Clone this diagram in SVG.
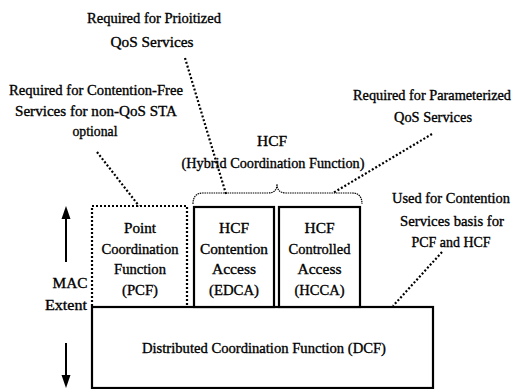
<svg xmlns="http://www.w3.org/2000/svg" width="518" height="389" viewBox="0 0 518 389">
<defs>
<style>
text{font-family:'Liberation Serif','DejaVu Serif',serif;font-size:15px;fill:#000;stroke:#000;stroke-width:0.35;text-anchor:middle}
.box{fill:#fff;stroke:#000;stroke-width:2.2}
.dbox{fill:none;stroke:#000;stroke-width:2.2;stroke-dasharray:2 2}
.dot{fill:none;stroke:#000;stroke-width:2.2;stroke-dasharray:2 2}
.brace{fill:none;stroke:#000;stroke-width:1.2;stroke-dasharray:1.5 0.8}
</style>
</defs>
<rect width="518" height="389" fill="#fff"/>
<g id="connectors">
<line class="dot" x1="185" y1="58" x2="226" y2="194"/>
<line class="dot" x1="97" y1="152" x2="139" y2="206"/>
<line class="dot" x1="432" y1="134" x2="333" y2="193"/>
<line class="dot" x1="442" y1="252" x2="393" y2="306"/>
<path class="brace" d="M193,204 Q193,193 203,193 L268,193 Q277,193 277,184 Q277,193 286,193 L352,193 Q362,193 362,204"/>
</g>
<g id="extent">
<line x1="66" y1="262" x2="66" y2="217" stroke="#000" stroke-width="2"/>
<polygon points="66,206 61.5,219 70.5,219"/>
<line x1="66" y1="343" x2="66" y2="378" stroke="#000" stroke-width="2"/>
<polygon points="66,388 61.5,375 70.5,375"/>
<text x="70" y="288" textLength="35" lengthAdjust="spacingAndGlyphs">MAC</text>
<text x="66" y="310" textLength="42" lengthAdjust="spacingAndGlyphs">Extent</text>
</g>
<g id="dcf">
<rect class="box" x="92" y="307" width="341" height="81"/>
<text x="264" y="353" textLength="244" lengthAdjust="spacingAndGlyphs">Distributed Coordination Function (DCF)</text>
</g>
<g id="pcf">
<rect class="dbox" x="92" y="206" width="95" height="101"/>
<text x="140" y="233" textLength="32" lengthAdjust="spacingAndGlyphs">Point</text>
<text x="140" y="254" textLength="77" lengthAdjust="spacingAndGlyphs">Coordination</text>
<text x="140" y="274" textLength="52" lengthAdjust="spacingAndGlyphs">Function</text>
<text x="140" y="295" textLength="36" lengthAdjust="spacingAndGlyphs">(PCF)</text>
</g>
<g id="edca">
<rect class="box" x="194" y="207" width="80" height="100"/>
<text x="234" y="233" textLength="30" lengthAdjust="spacingAndGlyphs">HCF</text>
<text x="234" y="254" textLength="68" lengthAdjust="spacingAndGlyphs">Contention</text>
<text x="234" y="274" textLength="44" lengthAdjust="spacingAndGlyphs">Access</text>
<text x="234" y="295" textLength="50" lengthAdjust="spacingAndGlyphs">(EDCA)</text>
</g>
<g id="hcca">
<rect class="box" x="279" y="207" width="81" height="100"/>
<text x="319.5" y="233" textLength="30" lengthAdjust="spacingAndGlyphs">HCF</text>
<text x="319.5" y="254" textLength="62" lengthAdjust="spacingAndGlyphs">Controlled</text>
<text x="319.5" y="274" textLength="44" lengthAdjust="spacingAndGlyphs">Access</text>
<text x="319.5" y="295" textLength="50" lengthAdjust="spacingAndGlyphs">(HCCA)</text>
</g>
<g id="hcf">
<text x="272" y="146" textLength="30" lengthAdjust="spacingAndGlyphs">HCF</text>
<text x="273" y="168" textLength="183" lengthAdjust="spacingAndGlyphs">(Hybrid Coordination Function)</text>
</g>
<g id="note-prioritized">
<text x="154" y="23" textLength="134" lengthAdjust="spacingAndGlyphs">Required for Prioitized</text>
<text x="152" y="47" textLength="83" lengthAdjust="spacingAndGlyphs">QoS Services</text>
</g>
<g id="note-pcf">
<text x="96" y="95" textLength="174" lengthAdjust="spacingAndGlyphs">Required for Contention-Free</text>
<text x="96" y="116" textLength="162" lengthAdjust="spacingAndGlyphs">Services for non-QoS STA</text>
<text x="95" y="136" textLength="45" lengthAdjust="spacingAndGlyphs">optional</text>
</g>
<g id="note-parameterized">
<text x="432" y="100" textLength="158" lengthAdjust="spacingAndGlyphs">Required for Parameterized</text>
<text x="433" y="122" textLength="78" lengthAdjust="spacingAndGlyphs">QoS Services</text>
</g>
<g id="note-dcf">
<text x="451" y="203" textLength="118" lengthAdjust="spacingAndGlyphs">Used for Contention</text>
<text x="452" y="226" textLength="104" lengthAdjust="spacingAndGlyphs">Services basis for</text>
<text x="451" y="247" textLength="79" lengthAdjust="spacingAndGlyphs">PCF and HCF</text>
</g>
</svg>
